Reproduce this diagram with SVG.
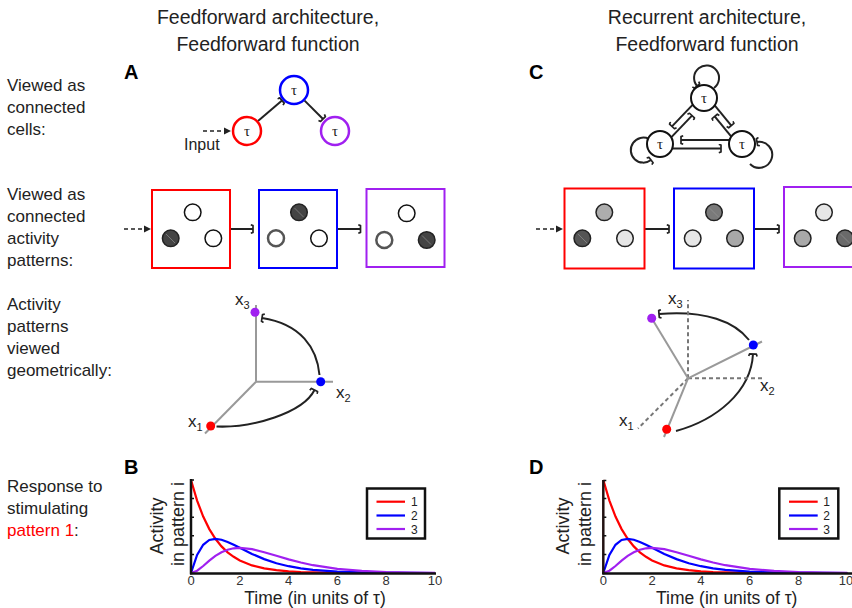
<svg xmlns="http://www.w3.org/2000/svg" xmlns:xlink="http://www.w3.org/1999/xlink" width="852" height="608" viewBox="0 0 852 608">
<style>
.t{font-family:"Liberation Sans",Arial,sans-serif;fill:#222}
.lbl{font-size:17px}
.ttl{font-size:19.5px;text-anchor:middle}
.pl{font-size:20px;font-weight:bold;fill:#000}
.tau{font-family:"Liberation Serif","Times New Roman",serif;font-size:15px;text-anchor:middle;fill:#222}
.edge{stroke:#222;stroke-width:2;fill:none}
.dash{stroke:#222;stroke-width:1.6;fill:none;stroke-dasharray:4 3}
.wc{fill:#fff;stroke:#111;stroke-width:1.5}
.gc{fill:#fff;stroke:#555;stroke-width:2.5}
.dc{fill:#444;stroke:#222;stroke-width:1.5}
.hl{stroke:#999;stroke-width:0.6}
.ax{stroke:#999;stroke-width:2;fill:none}
.axd{stroke:#777;stroke-width:2;fill:none;stroke-dasharray:4 3}
.tick{font-family:"Liberation Sans",Arial,sans-serif;font-size:13px;fill:#333;text-anchor:middle}
.xl{font-family:"Liberation Sans",Arial,sans-serif;font-size:17px;fill:#222}
.sub{font-size:11px}
</style>
<defs>
<marker id="cap" markerUnits="userSpaceOnUse" viewBox="-5 -5 10 10" markerWidth="10" markerHeight="10" refX="0" refY="0" orient="auto">
<path d="M-2.2,-4.2 L0,-3.4 L0,3.4 L-2.2,4.2" fill="none" stroke="#222" stroke-width="1.7" stroke-linejoin="round"/>
</marker>
<marker id="tri" markerUnits="userSpaceOnUse" viewBox="-7 -4 9 8" markerWidth="9" markerHeight="8" refX="0" refY="0" orient="auto">
<path d="M-6,-3.5 L1,0 L-6,3.5 Z" fill="#222"/>
</marker>
<g id="curves">
<polyline fill="none" stroke="#ff0000" stroke-width="2.2" points="191,480 197.1,500.6 203.2,516.6 209.3,529.1 215.4,538.8 221.5,546.4 227.6,552.3 233.7,556.8 239.8,560.4 252,565.4 264.2,568.4 276.4,570.2 288.6,571.3 300.8,572 313,572.4 337.4,572.8 361.8,572.9 386.2,573 435,573"/>
<polyline fill="none" stroke="#0000ff" stroke-width="2.2" points="191,573 197.1,554.9 203.2,544.8 209.3,540 215.4,538.8 221.5,539.7 227.6,541.9 233.7,544.7 239.8,547.8 252,553.9 264.2,559.1 276.4,563.2 288.6,566.2 300.8,568.4 313,569.9 337.4,571.6 361.8,572.4 386.2,572.7 410.6,572.9 435,573"/>
<polyline fill="none" stroke="#a020f0" stroke-width="2.2" points="191,573 197.1,570.7 203.2,566 209.3,560.6 215.4,555.9 221.5,552.2 227.6,549.7 233.7,548.3 239.8,547.8 252,549.1 264.2,552.2 276.4,555.8 288.6,559.4 300.8,562.5 313,565.2 337.4,568.9 361.8,570.9 386.2,572 410.6,572.5 435,572.8"/>
</g>
</defs>
<rect width="852" height="608" fill="#fff"/>

<!-- titles -->
<g id="titles">
<text class="t ttl" x="268" y="24">Feedforward architecture,</text>
<text class="t ttl" x="268" y="51">Feedforward function</text>
<text class="t ttl" x="707" y="24">Recurrent architecture,</text>
<text class="t ttl" x="707" y="51">Feedforward function</text>
<text class="t pl" x="124" y="79">A</text>
<text class="t pl" x="529" y="79">C</text>
<text class="t pl" x="124" y="474">B</text>
<text class="t pl" x="529" y="474">D</text>
</g>

<!-- row labels -->
<g id="row-labels" class="t lbl">
<text x="7" y="91">Viewed as</text>
<text x="7" y="113">connected</text>
<text x="7" y="135">cells:</text>
<text x="7" y="200">Viewed as</text>
<text x="7" y="222">connected</text>
<text x="7" y="244">activity</text>
<text x="7" y="266">patterns:</text>
<text x="7" y="310">Activity</text>
<text x="7" y="332">patterns</text>
<text x="7" y="354">viewed</text>
<text x="7" y="376">geometrically:</text>
<text x="7" y="492">Response to</text>
<text x="7" y="514">stimulating</text>
<text x="7" y="536"><tspan fill="#ff0000">pattern 1</tspan>:</text>
</g>

<!-- connectors -->
<g id="connectors">
<!-- A network -->
<line class="dash" x1="203" y1="131" x2="230" y2="131" marker-end="url(#tri)"/>
<line class="edge" x1="258" y1="121" x2="282" y2="100.5" marker-end="url(#cap)"/>
<line class="edge" x1="304.6" y1="100.6" x2="323" y2="119" marker-end="url(#cap)"/>
<!-- C network -->
<line class="edge" x1="692.8" y1="104.6" x2="672" y2="126.4" marker-end="url(#cap)"/>
<line class="edge" x1="671.2" y1="137.4" x2="692" y2="115.6" marker-end="url(#cap)"/>
<line class="edge" x1="714.7" y1="105.4" x2="731.3" y2="125.6" marker-end="url(#cap)"/>
<line class="edge" x1="731.3" y1="136.6" x2="714.7" y2="116.4" marker-end="url(#cap)"/>
<line class="edge" x1="729.6" y1="140" x2="681" y2="140" marker-end="url(#cap)"/>
<line class="edge" x1="672.4" y1="148.5" x2="721" y2="148.5" marker-end="url(#cap)"/>
<path class="edge" d="M714,88 A12.5,12.5 0 1 0 697,86" marker-end="url(#cap)"/>
<path class="edge" d="M649,139 A12.5,12.5 0 1 0 651,160" marker-end="url(#cap)"/>
<path class="edge" d="M750,164 A13,13 0 1 0 757,142" marker-end="url(#cap)"/>
<!-- pattern chains -->
<line class="dash" x1="124" y1="229" x2="150" y2="229" marker-end="url(#tri)"/>
<line class="edge" x1="231" y1="229" x2="253" y2="229" marker-end="url(#cap)"/>
<line class="edge" x1="338" y1="229" x2="360.5" y2="229" marker-end="url(#cap)"/>
<line class="dash" x1="536" y1="229" x2="562" y2="229" marker-end="url(#tri)"/>
<line class="edge" x1="645" y1="229" x2="669" y2="229" marker-end="url(#cap)"/>
<line class="edge" x1="755" y1="229" x2="779" y2="229" marker-end="url(#cap)"/>
<!-- geometric arcs -->
<path class="edge" d="M216.5,426.5 C252,428 303,413 314.5,390" stroke-width="2.4" marker-end="url(#cap)"/>
<path class="edge" d="M319.5,375 C317,348 301,324 262,318" stroke-width="2.4" marker-end="url(#cap)"/>
<path class="edge" d="M749,340 C735,322 706,310 659,314" stroke-width="2.4" marker-end="url(#cap)"/>
<path class="edge" d="M676,431 C716,420 751,392 753,354" stroke-width="2.4" marker-end="url(#cap)"/>
</g>

<!-- A nodes -->
<g id="A-cell1"><circle cx="247" cy="131" r="14" fill="#fff" stroke="#ff0000" stroke-width="2.5"/><text class="tau" x="247" y="136">τ</text></g>
<g id="A-cell2"><circle cx="294" cy="90" r="14" fill="#fff" stroke="#0000ff" stroke-width="2.5"/><text class="tau" x="294" y="95">τ</text></g>
<g id="A-cell3"><circle cx="335" cy="131" r="14" fill="#fff" stroke="#a020f0" stroke-width="2.5"/><text class="tau" x="335" y="136">τ</text></g>
<text class="t" x="184" y="150" font-size="16">Input</text>

<!-- C nodes -->
<g id="C-cell-top"><circle cx="704" cy="98" r="13" fill="#fff" stroke="#111" stroke-width="2"/><text class="tau" x="704" y="103">τ</text></g>
<g id="C-cell-left"><circle cx="660" cy="144" r="13" fill="#fff" stroke="#111" stroke-width="2"/><text class="tau" x="660" y="149">τ</text></g>
<g id="C-cell-right"><circle cx="742" cy="144" r="13" fill="#fff" stroke="#111" stroke-width="2"/><text class="tau" x="742" y="149">τ</text></g>

<!-- A patterns -->
<g id="A-pattern1">
<rect x="152" y="190" width="78" height="78" fill="#fff" stroke="#ff0000" stroke-width="2"/>
<circle class="wc" cx="192.7" cy="212.3" r="8.3"/>
<circle class="dc" cx="170.7" cy="238.3" r="8.3"/><line class="hl" x1="166" y1="234" x2="175" y2="243"/>
<circle class="wc" cx="213.3" cy="238.3" r="8.3"/>
</g>
<g id="A-pattern2">
<rect x="259" y="190" width="78" height="78" fill="#fff" stroke="#0000ff" stroke-width="2"/>
<circle class="dc" cx="299" cy="212.3" r="8.3"/><line class="hl" x1="294.5" y1="208" x2="303.5" y2="217"/>
<circle class="gc" cx="276" cy="238.3" r="8"/>
<circle class="wc" cx="319" cy="238.3" r="8.3"/>
</g>
<g id="A-pattern3">
<rect x="366.5" y="189" width="78" height="78" fill="#fff" stroke="#a020f0" stroke-width="2"/>
<circle class="wc" cx="406.7" cy="213.3" r="8.3"/>
<circle class="gc" cx="384.3" cy="240" r="8"/>
<circle class="dc" cx="426.7" cy="240" r="8.3"/><line class="hl" x1="422" y1="235.5" x2="431" y2="244.5"/>
</g>

<!-- C patterns -->
<g id="C-pattern1">
<rect x="564.5" y="188.5" width="80" height="80" fill="#fff" stroke="#ff0000" stroke-width="2"/>
<circle cx="604.3" cy="212.3" r="8.3" fill="#adadad" stroke="#222" stroke-width="1.5"/>
<circle cx="582.3" cy="238.3" r="8.3" fill="#555" stroke="#222" stroke-width="1.5"/><line class="hl" x1="578" y1="234" x2="587" y2="243"/>
<circle cx="625" cy="238.3" r="8.3" fill="#e6e6e6" stroke="#222" stroke-width="1.5"/>
</g>
<g id="C-pattern2">
<rect x="674" y="188.5" width="80" height="80" fill="#fff" stroke="#0000ff" stroke-width="2"/>
<circle cx="714" cy="212.3" r="8.3" fill="#7a7a7a" stroke="#222" stroke-width="1.5"/><line class="hl" x1="709.5" y1="208" x2="718.5" y2="217"/>
<circle cx="692.7" cy="238.3" r="8.3" fill="#e6e6e6" stroke="#222" stroke-width="1.5"/>
<circle cx="735" cy="238.3" r="8.3" fill="#a8a8a8" stroke="#222" stroke-width="1.5"/>
</g>
<g id="C-pattern3">
<rect x="784" y="187" width="80" height="80" fill="#fff" stroke="#a020f0" stroke-width="2"/>
<circle cx="824" cy="212.3" r="8.3" fill="#e6e6e6" stroke="#222" stroke-width="1.5"/>
<circle cx="802.7" cy="238.3" r="8.3" fill="#a8a8a8" stroke="#222" stroke-width="1.5"/>
<circle cx="845" cy="238.3" r="8.3" fill="#6a6a6a" stroke="#222" stroke-width="1.5"/><line class="hl" x1="840.5" y1="234" x2="849.5" y2="243"/>
</g>

<!-- A geometric -->
<g id="A-geometry">
<line class="ax" x1="256" y1="381.7" x2="256" y2="305"/>
<line class="ax" x1="256" y1="381.7" x2="333" y2="381.7"/>
<line class="ax" x1="256" y1="381.7" x2="205" y2="433.5"/>
<text class="xl" x="235" y="305">x<tspan class="sub" dy="4">3</tspan></text>
<text class="xl" x="336" y="398">x<tspan class="sub" dy="4">2</tspan></text>
<text class="xl" x="188" y="427">x<tspan class="sub" dy="4">1</tspan></text>
</g>
<g id="A-point1"><circle cx="210.7" cy="426" r="4.5" fill="#ff0000"/></g>
<g id="A-point2"><circle cx="320.7" cy="381.7" r="4.5" fill="#0000ff"/></g>
<g id="A-point3"><circle cx="255" cy="312.3" r="4.5" fill="#a020f0"/></g>

<!-- C geometric -->
<g id="C-geometry">
<line class="axd" x1="688" y1="378.3" x2="688" y2="300"/>
<line class="axd" x1="688" y1="378.3" x2="762" y2="378.3"/>
<line class="axd" x1="688" y1="378.3" x2="638" y2="428.5"/>
<line class="ax" x1="688" y1="378.3" x2="651.7" y2="318.3"/>
<line class="ax" x1="688" y1="378.3" x2="762" y2="341.5"/>
<line class="ax" x1="688" y1="378.3" x2="664" y2="437"/>
<text class="xl" x="668" y="304">x<tspan class="sub" dy="4">3</tspan></text>
<text class="xl" x="760" y="391">x<tspan class="sub" dy="4">2</tspan></text>
<text class="xl" x="619" y="426">x<tspan class="sub" dy="4">1</tspan></text>
</g>
<g id="C-point1"><circle cx="666.7" cy="429.3" r="4.5" fill="#ff0000"/></g>
<g id="C-point2"><circle cx="753.3" cy="345" r="4.5" fill="#0000ff"/></g>
<g id="C-point3"><circle cx="651.7" cy="318.3" r="4.5" fill="#a020f0"/></g>

<!-- Plot B -->
<g id="plot-B">
<use xlink:href="#curves" href="#curves"/>
<line x1="191" y1="479" x2="191" y2="574.3" stroke="#111" stroke-width="2.5"/>
<line x1="190" y1="573.5" x2="436" y2="573.5" stroke="#111" stroke-width="2.5"/>
<path d="M191,554.4h3M191,535.8h3M191,517.2h3M191,498.6h3M191,480h3" stroke="#111" stroke-width="1.5"/>
<text class="tick" x="191" y="585">0</text><text class="tick" x="239.8" y="585">2</text><text class="tick" x="288.6" y="585">4</text><text class="tick" x="337.4" y="585">6</text><text class="tick" x="386.2" y="585">8</text><text class="tick" x="435" y="585">10</text>
<text class="t" font-size="17.5" text-anchor="middle" x="315" y="604">Time (in units of τ)</text>
<text class="t" font-size="18" text-anchor="middle" transform="translate(162.5,526) rotate(-90)">Activity</text>
<text class="t" font-size="18" text-anchor="middle" transform="translate(183.5,524) rotate(-90)">in pattern i</text>
<rect x="367" y="488.5" width="58" height="50" fill="#fff" stroke="#111" stroke-width="2.5"/>
<line x1="376.5" y1="501.7" x2="405" y2="501.7" stroke="#ff0000" stroke-width="2.2"/>
<line x1="376.5" y1="515.5" x2="405" y2="515.5" stroke="#0000ff" stroke-width="2.2"/>
<line x1="376.5" y1="529" x2="405" y2="529" stroke="#a020f0" stroke-width="2.2"/>
<text class="t" font-size="12" fill="#333" x="411" y="506">1</text>
<text class="t" font-size="12" fill="#333" x="411" y="520">2</text>
<text class="t" font-size="12" fill="#333" x="411" y="533.5">3</text>
</g>

<!-- Plot D -->
<g id="plot-D">
<use xlink:href="#curves" href="#curves" transform="translate(412.3,0)"/>
<line x1="603.3" y1="480" x2="603.3" y2="574.3" stroke="#221111" stroke-width="2.5"/>
<line x1="602.3" y1="573.5" x2="852" y2="573.5" stroke="#111" stroke-width="2.5"/>
<path d="M603.3,554.4h3M603.3,535.8h3M603.3,517.2h3M603.3,498.6h3M603.3,480.5h3" stroke="#111" stroke-width="1.5"/>
<text class="tick" x="603.3" y="585">0</text><text class="tick" x="652.1" y="585">2</text><text class="tick" x="700.9" y="585">4</text><text class="tick" x="749.7" y="585">6</text><text class="tick" x="798.5" y="585">8</text><text class="tick" x="846" y="585">10</text>
<text class="t" font-size="17.5" text-anchor="middle" x="726.7" y="604">Time (in units of τ)</text>
<text class="t" font-size="18" text-anchor="middle" transform="translate(569,526) rotate(-90)">Activity</text>
<text class="t" font-size="18" text-anchor="middle" transform="translate(591,524) rotate(-90)">in pattern i</text>
<rect x="779.3" y="488.5" width="59" height="50" fill="#fff" stroke="#111" stroke-width="2.5"/>
<line x1="789" y1="501.7" x2="817.7" y2="501.7" stroke="#ff0000" stroke-width="2.2"/>
<line x1="789" y1="515.5" x2="817.7" y2="515.5" stroke="#0000ff" stroke-width="2.2"/>
<line x1="789" y1="529" x2="817.7" y2="529" stroke="#a020f0" stroke-width="2.2"/>
<text class="t" font-size="12" fill="#333" x="823.3" y="506">1</text>
<text class="t" font-size="12" fill="#333" x="823.3" y="520">2</text>
<text class="t" font-size="12" fill="#333" x="823.3" y="533.5">3</text>
</g>
</svg>
